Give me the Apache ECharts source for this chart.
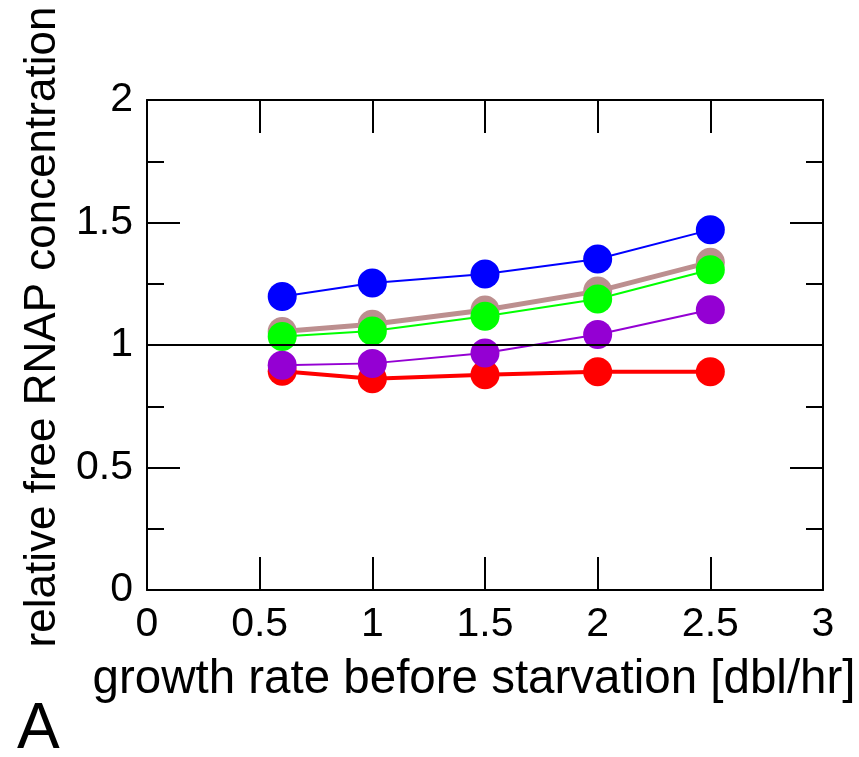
<!DOCTYPE html>
<html>
<head>
<meta charset="utf-8">
<script src="https://cdn.jsdelivr.net/npm/echarts@6/dist/echarts.min.js"></script>
<style>
  html, body { margin: 0; padding: 0; background: #fff; }
  #chart { width: 859px; height: 757px; }
</style>
</head>
<body>
<div id="chart"></div>
<script>
// Growth rates (doublings per hour) before starvation
const growthRates = [0.6, 1.0, 1.5, 2.0, 2.5];

// Relative free RNAP concentration for each condition
const redValues    = [0.893, 0.862, 0.879, 0.891, 0.891];
const brownValues  = [1.055, 1.085, 1.143, 1.220, 1.338];
const greenValues  = [1.035, 1.057, 1.117, 1.188, 1.307];
const purpleValues = [0.917, 0.925, 0.967, 1.043, 1.144];
const blueValues   = [1.198, 1.253, 1.290, 1.351, 1.470];

const referenceLevel = 1;

const font = 'Liberation Sans, Arial, Helvetica, sans-serif';

function pairs(xs, ys) {
  return xs.map((x, i) => [x, ys[i]]);
}

function lineSeries(name, values, color, width) {
  return {
    name: name,
    type: 'line',
    data: pairs(growthRates, values),
    symbol: 'circle',
    symbolSize: 29,
    itemStyle: { color: color },
    lineStyle: { color: color, width: width },
    emphasis: { disabled: true },
    animation: false
  };
}

const chart = echarts.init(document.getElementById('chart'), null, { renderer: 'canvas' });

const axisLine = { show: true, onZero: false, lineStyle: { color: '#000', width: 2 } };
const majorTick = { show: true, inside: true, length: 33, lineStyle: { color: '#000', width: 2 } };

chart.setOption({
  backgroundColor: '#fff',
  animation: false,
  title: {
    text: 'A',
    left: 12,
    top: 693,
    textStyle: { fontFamily: font, fontSize: 64, fontWeight: 'normal', color: '#000' }
  },
  grid: { left: 147, right: 36, top: 100, bottom: 167, containLabel: false, outerBoundsMode: 'none' },
  xAxis: [
    {
      type: 'value', min: 0, max: 3, interval: 0.5,
      name: 'growth rate before starvation [dbl/hr]',
      nameLocation: 'middle', nameGap: 66,
      nameTextStyle: { fontFamily: font, fontSize: 47.5, color: '#000', padding: [0, 22, 0, 0] },
      axisLine: axisLine, axisTick: majorTick,
      axisLabel: { fontFamily: font, fontSize: 41, color: '#000', margin: 14 },
      splitLine: { show: false }
    },
    {
      type: 'value', min: 0, max: 3, interval: 0.5, position: 'top',
      axisLine: axisLine, axisTick: majorTick,
      axisLabel: { show: false }, splitLine: { show: false }
    }
  ],
  yAxis: [
    {
      type: 'value', min: 0, max: 2, interval: 0.5,
      name: 'relative free RNAP concentration',
      nameLocation: 'middle', nameGap: 82,
      nameTextStyle: { fontFamily: font, fontSize: 44, color: '#000', padding: [0, 0, 0, 36] },
      axisLine: axisLine, axisTick: majorTick,
      minorTick: { show: true, splitNumber: 2, length: 17, lineStyle: { color: '#000', width: 2 } },
      axisLabel: { fontFamily: font, fontSize: 41, color: '#000', margin: 14 },
      splitLine: { show: false }
    },
    {
      type: 'value', min: 0, max: 2, interval: 0.5, position: 'right',
      axisLine: axisLine, axisTick: majorTick,
      minorTick: { show: true, splitNumber: 2, length: 17, lineStyle: { color: '#000', width: 2 } },
      axisLabel: { show: false }, splitLine: { show: false }
    }
  ],
  series: [
    Object.assign(lineSeries('red', redValues, '#ff0000', 4), {
      markLine: {
        silent: true, symbol: 'none', animation: false,
        label: { show: false },
        lineStyle: { color: '#000', width: 2, type: 'solid' },
        data: [{ yAxis: referenceLevel }]
      }
    }),
    lineSeries('brown', brownValues, '#bc8f8f', 5),
    lineSeries('green', greenValues, '#00ff00', 2),
    lineSeries('purple', purpleValues, '#9400d3', 2),
    lineSeries('blue', blueValues, '#0000ff', 2)
  ]
});
</script>
</body>
</html>
